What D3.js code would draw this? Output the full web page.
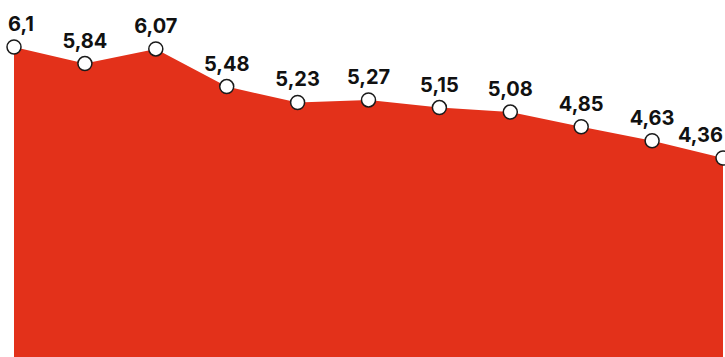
<!DOCTYPE html>
<html>
<head>
<meta charset="utf-8">
<script src="https://cdn.jsdelivr.net/npm/d3@7"></script>
<style>
  html, body { margin: 0; padding: 0; background: #fff; }
  svg { display: block; }
</style>
</head>
<body>
<div id="chart-container"></div>
<script>
// data
const categories = ["1", "2", "3", "4", "5", "6", "7", "8", "9", "10", "11"];
const values = [6.1, 5.84, 6.07, 5.48, 5.23, 5.27, 5.15, 5.08, 4.85, 4.63, 4.36];

const w = 725;
const h = 357;

const svg = d3
  .select("#chart-container")
  .append("svg")
  .attr("width", w)
  .attr("height", h);

const dataset = categories.map((c, i) => ({ cat: c, value: values[i] }));

// scales
const x = d3.scalePoint().domain(categories).range([14, 723]);
const y = d3.scaleLinear().domain([1.24, 6.1]).range([h, 47]);

// area
const area = d3
  .area()
  .x((d) => x(d.cat))
  .y0(h)
  .y1((d) => y(d.value));

svg
  .append("path")
  .datum(dataset)
  .attr("d", area)
  .attr("fill", "#e3311a");

// points
svg
  .selectAll("circle")
  .data(dataset)
  .enter()
  .append("circle")
  .attr("cx", (d) => x(d.cat))
  .attr("cy", (d) => y(d.value))
  .attr("r", 7)
  .attr("fill", "#fff")
  .attr("stroke", "#1a1a1a")
  .attr("stroke-width", 1.5);

// labels
const fmt = (v) => String(v).replace(".", ",");
const labels = svg
  .selectAll(".label")
  .data(dataset)
  .enter()
  .append("text")
  .attr("class", "label")
  .attr("x", (d) => x(d.cat))
  .attr("y", (d) => y(d.value) - 16)
  .attr("text-anchor", "middle")
  .attr("font-family", "Inter, 'Noto Sans', sans-serif")
  .attr("font-weight", 700)
  .attr("font-size", 20)
  .attr("fill", "#111")
  .text((d) => fmt(d.value));

// keep labels inside the frame
labels.each(function () {
  const bb = this.getBBox();
  let dx = 0;
  if (bb.x < 8) dx = 8 - bb.x;
  if (bb.x + bb.width > w - 2) dx = w - 2 - (bb.x + bb.width);
  if (dx) d3.select(this).attr("x", +this.getAttribute("x") + dx);
});
</script>
</body>
</html>
